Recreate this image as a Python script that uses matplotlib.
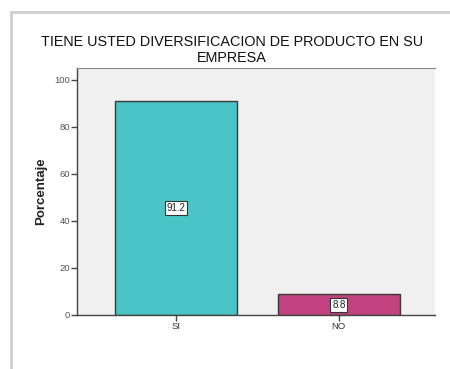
import matplotlib.pyplot as plt
from matplotlib.patches import Rectangle

categories = ["SI", "NO"]
porcentajes = [91.2, 8.8]
colores = ["#4bc4c7", "#c2427f"]
yticks = [0, 20, 40, 60, 80, 100]

plt.rcParams["font.family"] = ["Liberation Sans", "DejaVu Sans"]

fig = plt.figure(figsize=(4.5, 3.69), dpi=100)
fig.patch.set_facecolor("white")

# light panel frame around the chart
fig.patches.append(Rectangle((11 / 450, -0.05), 1.0, 1 - 12 / 369 + 0.05,
                             transform=fig.transFigure, fill=False,
                             edgecolor="#cfcfcf", linewidth=2))

ax = fig.add_axes([77 / 450, 1 - 315 / 369, (435 - 77) / 450, (315 - 68) / 369])
ax.set_facecolor("#f0f0f0")

x = list(range(len(categories)))
bars = ax.bar(x, porcentajes, width=0.75, color=colores,
              edgecolor="#3a3a3a", linewidth=1.0, zorder=2)

for xi, v in zip(x, porcentajes):
    ax.text(xi, v / 2, f"{v:.1f}", ha="center", va="center", fontsize=7,
            color="#222222", zorder=3,
            bbox=dict(boxstyle="square,pad=0.2", facecolor="white",
                      edgecolor="#333333", linewidth=0.8))

ax.set_xlim(-0.607, 1.59)
ax.set_ylim(0, 105.1)
ax.set_xticks(x)
ax.set_xticklabels(categories, fontsize=6.8, color="#333333")
ax.set_yticks(yticks)
ax.set_yticklabels([str(t) for t in yticks], fontsize=6.8, color="#555555")
ax.tick_params(axis="both", direction="out", length=4, width=1, color="#444444", pad=1)

for side in ("left", "bottom"):
    ax.spines[side].set_color("#444444")
    ax.spines[side].set_linewidth(1)
ax.spines["top"].set_color("#888888")
ax.spines["right"].set_visible(False)

ax.set_ylabel("Porcentaje", fontsize=9.5, fontweight="bold", color="#222222", labelpad=5)

title_x = 232 / 450
fig.text(title_x, 1 - 42 / 369, "TIENE USTED DIVERSIFICACION DE PRODUCTO EN SU",
         ha="center", va="center", fontsize=10.4, color="#111111")
fig.text(title_x, 1 - 58 / 369, "EMPRESA", ha="center", va="center",
         fontsize=10.4, color="#111111")

fig.savefig("out.png", dpi=100)
